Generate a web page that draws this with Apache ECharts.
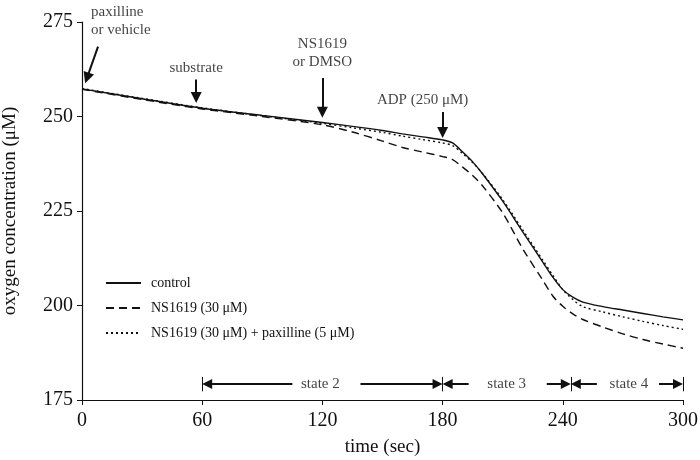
<!DOCTYPE html>
<html><head><meta charset="utf-8">
<script src="https://cdn.jsdelivr.net/npm/echarts@6/dist/echarts.min.js"></script>
<style>html,body{margin:0;padding:0;background:#fff}#c{width:700px;height:460px}</style>
</head><body><div id="c"></div>
<script>
// ---- data ----
const times   = [0, 30, 60, 90, 120, 135, 150, 160, 170, 180, 185, 190, 195, 200, 210, 220, 230, 235, 240, 245, 250, 260, 270, 280, 290, 300];
const control = [257.3, 254.7, 252.2, 250.3, 248.4, 247.4, 246.3, 245.4, 244.6, 243.8, 243.0, 240.6, 238.0, 234.8, 227.6, 219.5, 211.5, 207.5, 204.2, 202.2, 200.9, 199.7, 198.8, 197.9, 197.0, 196.2];
const ns1619  = [257.2, 254.5, 252.0, 250.0, 247.8, 245.9, 243.5, 241.8, 240.6, 239.4, 238.6, 236.6, 234.4, 231.6, 224.5, 215.0, 206.7, 202.5, 199.8, 197.8, 196.3, 194.3, 192.5, 191.0, 189.8, 188.7];
const nsPax   = [257.4, 254.8, 252.3, 250.2, 248.2, 247.0, 245.8, 244.8, 243.9, 243.0, 242.3, 240.2, 237.8, 234.9, 228.0, 220.0, 212.0, 208.0, 204.2, 201.6, 199.7, 198.3, 197.0, 195.8, 194.7, 193.7];
const seriesNames = ['control', 'NS1619 (30 μM)', 'NS1619 (30 μM) + paxilline (5 μM)'];
const xTicks = [0, 60, 120, 180, 240, 300];
const yTicks = [175, 200, 225, 250, 275];
const eventTexts = ['paxilline\nor vehicle', 'substrate', 'NS1619\nor DMSO', 'ADP (250 μM)'];
const stateTexts = ['state 2', 'state 3', 'state 4'];
const stateBounds = [60, 180, 244, 300];

// ---- annotation layout (data units) ----
const eventTextAt = [[3.5, 275.3], [57, 262.8], [120, 266.8], [170, 254.4]];
const eventTextAlign = ['left', 'center', 'center', 'center'];
const eventArrows = [[[8, 268.5], [2.5, 260.2]], [[57, 259.8], [57, 255.0]], [[120, 260.2], [120, 251.1]], [[180, 251.2], [180, 245.8]]];
const stateY = 179.2;
const stateTextAt = [119, 212, 273];
const stateSegs = [[[62.5, 105], [139, 177.5]], [[182.5, 193], [232, 241.5]], [[246.5, 257], [288, 297.5]]];

const ink = '#111';
const font = '"Liberation Serif","Times New Roman",serif';
function pts(vals) { return times.map((t, i) => [t, vals[i]]); }

const marks = [];
eventArrows.forEach(a => marks.push([{coord: a[0], symbol: 'none'}, {coord: a[1], symbol: 'triangle', symbolSize: 11}]));
stateSegs.forEach(s => {
  marks.push([{coord: [s[0][0], stateY], symbol: 'triangle', symbolSize: 10}, {coord: [s[0][1], stateY], symbol: 'none'}]);
  marks.push([{coord: [s[1][0], stateY], symbol: 'none'}, {coord: [s[1][1], stateY], symbol: 'triangle', symbolSize: 10}]);
});
stateBounds.forEach(b => marks.push([{coord: [b, stateY - 1.9], symbol: 'none', lineStyle: {width: 1}}, {coord: [b, stateY + 1.9], symbol: 'none'}]));

const textData = eventTexts.map((t, i) => ({value: eventTextAt[i], name: t, label: {align: eventTextAlign[i]}}))
  .concat(stateTexts.map((t, i) => ({value: [stateTextAt[i], stateY], name: t})));

const lineBase = {type: 'line', showSymbol: false, symbol: 'none', smooth: 0.3, silent: true};
const chart = echarts.init(document.getElementById('c'));
chart.setOption({
  animation: false,
  backgroundColor: '#fff',
  textStyle: {fontFamily: font},
  grid: {left: 82, right: 17, top: 22, bottom: 60, containLabel: false, outerBoundsMode: 'none'},
  legend: {
    orient: 'vertical', left: 100, top: 271, itemWidth: 35, itemHeight: 14, itemGap: 11,
    data: seriesNames,
    itemStyle: {opacity: 0},
    textStyle: {fontFamily: font, fontSize: 14, color: ink, padding: [0, 0, 0, 5]},
    selectedMode: false
  },
  xAxis: {
    type: 'value', min: xTicks[0], max: xTicks[xTicks.length - 1], interval: 60,
    name: 'time (sec)', nameLocation: 'middle', nameGap: 38,
    nameTextStyle: {fontFamily: font, fontSize: 19, color: ink},
    axisLine: {lineStyle: {color: ink, width: 1.2}},
    axisTick: {length: 5, lineStyle: {color: ink}},
    axisLabel: {fontFamily: font, fontSize: 20, color: ink, margin: 11},
    splitLine: {show: false}
  },
  yAxis: {
    type: 'value', min: yTicks[0], max: yTicks[yTicks.length - 1], interval: 25,
    name: 'oxygen concentration (μM)', nameLocation: 'middle', nameGap: 62, nameRotate: 90,
    nameTextStyle: {fontFamily: font, fontSize: 19, color: ink},
    axisLine: {show: true, lineStyle: {color: ink, width: 1.2}},
    axisTick: {show: true, length: 5, lineStyle: {color: ink}},
    axisLabel: {fontFamily: font, fontSize: 20, color: ink, margin: 9},
    splitLine: {show: false}
  },
  series: [
    Object.assign({}, lineBase, {name: seriesNames[0], data: pts(control), lineStyle: {color: ink, width: 1.4, type: 'solid'}, itemStyle: {color: ink}}),
    Object.assign({}, lineBase, {name: seriesNames[1], data: pts(ns1619), lineStyle: {color: ink, width: 1.4, type: [8, 5]}, itemStyle: {color: ink}}),
    Object.assign({}, lineBase, {name: seriesNames[2], data: pts(nsPax), lineStyle: {color: ink, width: 1.4, type: [2, 3]}, itemStyle: {color: ink}}),
    {
      type: 'scatter', name: 'annot', data: textData, symbolSize: 1, clip: false, silent: true,
      itemStyle: {color: 'rgba(0,0,0,0)'},
      label: {show: true, position: 'inside', formatter: p => p.name, fontFamily: font, fontSize: 15, lineHeight: 18, color: ink, backgroundColor: '#fff', padding: [0, 2]},
      markLine: {
        silent: true, animation: false, symbol: ['none', 'none'],
        label: {show: false},
        lineStyle: {color: ink, width: 2, type: 'solid'},
        itemStyle: {color: ink},
        emphasis: {disabled: true},
        data: marks
      }
    }
  ]
});
</script></body></html>
